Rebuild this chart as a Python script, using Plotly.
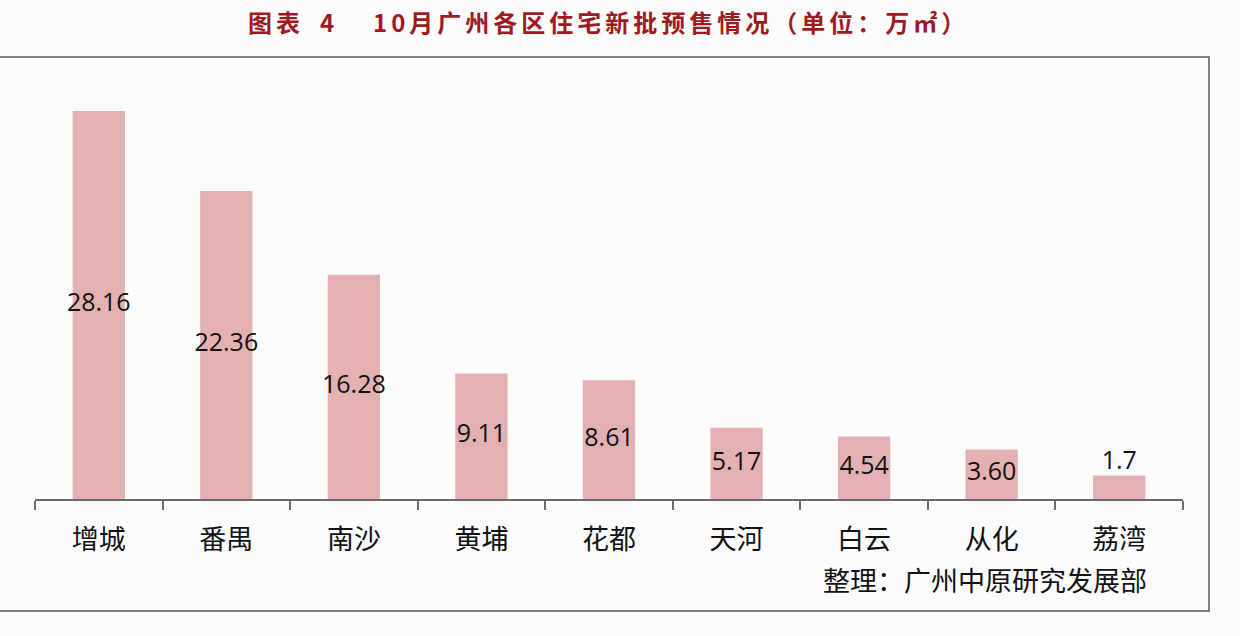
import plotly.graph_objects as go

districts = ["增城", "番禺", "南沙", "黄埔", "花都", "天河", "白云", "从化", "荔湾"]
values = [28.16, 22.36, 16.28, 9.11, 8.61, 5.17, 4.54, 3.60, 1.7]
value_labels = ["28.16", "22.36", "16.28", "9.11", "8.61", "5.17", "4.54", "3.60", "1.7"]

title_head = "图表"
title_num = "4"
title_main = "10月广州各区住宅新批预售情况（单位：万㎡）"
source_text = "整理：广州中原研究发展部"

W, H = 1240, 636
bar_color = "#e4b1b3"


def px(x):
    return x / W


def py(y):
    return 1 - y / H


def spaced(s, sep="\u2006"):
    return sep.join(list(s))


fig = go.Figure()
fig.add_trace(go.Bar(
    x=districts, y=values,
    marker=dict(color=bar_color, line=dict(width=0)),
    hoverinfo="skip", showlegend=False,
))

lab_y = [v / 2 if v > 3 else v for v in values]
lab_pos = ["middle center" if v > 3 else "top center" for v in values]
fig.add_trace(go.Scatter(
    x=districts, y=lab_y, mode="text", text=value_labels,
    textposition=lab_pos,
    textfont=dict(family="Open Sans", size=25, color="#111111"),
    hoverinfo="skip", showlegend=False,
))

y_axis_px = 499
px_per_unit = (499 - 111) / 28.16
ymax = 30
y_top_px = y_axis_px - ymax * px_per_unit

title_font = dict(family="Noto Sans CJK SC", size=24, color="#9e1a1e")
title_y = py(21)

fig.update_layout(
    width=W, height=H,
    margin=dict(l=0, r=0, t=0, b=0),
    paper_bgcolor="#fdfcfd", plot_bgcolor="rgba(0,0,0,0)",
    bargap=0.59,
    xaxis=dict(
        domain=[px(35), px(1183)],
        showline=True, linecolor="#6b6b6b", linewidth=1.5,
        ticks="outside", tickson="boundaries", ticklen=9, tickcolor="#6b6b6b", tickwidth=1.5,
        tickfont=dict(family="Noto Sans CJK SC", size=27, color="#111111"),
        ticklabelstandoff=16,
        showgrid=False, zeroline=False,
    ),
    yaxis=dict(
        domain=[py(y_axis_px), py(y_top_px)],
        range=[0, ymax], visible=False, showgrid=False, zeroline=False,
    ),
    shapes=[
        dict(type="rect", xref="paper", yref="paper",
             x0=-0.02, x1=px(1209), y0=py(611), y1=py(57),
             line=dict(color="#5a5a5a", width=1.5), fillcolor="rgba(0,0,0,0)", layer="below"),
    ],
    annotations=[
        dict(text="<b>" + spaced(title_head) + "</b>", xref="paper", yref="paper",
             x=px(247), y=title_y, xanchor="left", yanchor="middle", borderpad=0,
             showarrow=False, font=title_font),
        dict(text="<b>" + title_num + "</b>", xref="paper", yref="paper",
             x=px(319), y=title_y, xanchor="left", yanchor="middle", borderpad=0,
             showarrow=False, font=title_font),
        dict(text="<b>" + spaced(title_main) + "</b>", xref="paper", yref="paper",
             x=px(372), y=title_y, xanchor="left", yanchor="middle", borderpad=0,
             showarrow=False, font=title_font),
        dict(text=source_text, xref="paper", yref="paper",
             x=px(985), y=py(579), xanchor="center", yanchor="middle",
             showarrow=False, font=dict(family="Noto Sans CJK SC", size=27, color="#111111")),
    ],
)

fig.write_html("out.html", config={"displayModeBar": False},
               post_script="document.body.style.margin='0';")
